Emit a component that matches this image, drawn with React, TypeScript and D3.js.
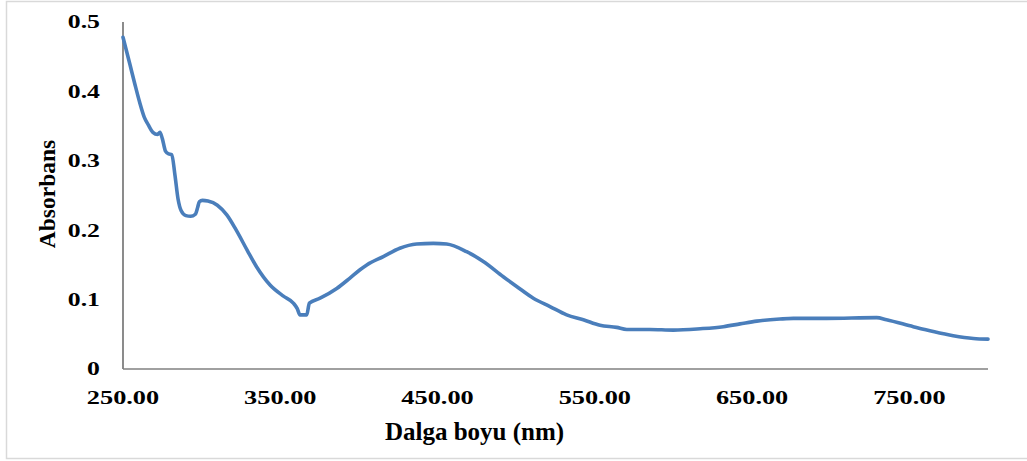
import React from "react";
import * as d3 from "d3";

// Absorption spectrum: wavelength (nm) and absorbance readings
const wavelengths = [
  250, 254.5, 257.6, 260.5, 263.5, 266, 269, 272, 273.5, 275, 277, 279, 281, 283, 285, 287,
  290, 293, 296, 297.5, 298.5, 300.5, 304, 310, 316, 322, 329, 335, 343.5, 352, 358.3,
  360.8, 362.5, 366.8, 368.5, 375.3, 385.9, 394.3, 400.7, 405, 415.5, 426, 436.7, 447.3,
  455.8, 468.5, 479.1, 491.8, 500.3, 510.9, 521.5, 532.1, 542.7, 553.3, 563.9, 570.3,
  585, 600, 617, 631.7, 642.3, 653, 667.7, 676.2, 697.4, 729.2, 735.5, 752.5, 765.2,
  777.9, 790.7, 800,
];
const absorbance = [
  0.478, 0.438, 0.41, 0.385, 0.363, 0.352, 0.341, 0.338, 0.341, 0.332, 0.314, 0.31, 0.309,
  0.28, 0.245, 0.228, 0.221, 0.22, 0.223, 0.233, 0.241, 0.243, 0.242, 0.236, 0.222, 0.2,
  0.171, 0.147, 0.121, 0.105, 0.095, 0.087, 0.078, 0.078, 0.095, 0.102, 0.116, 0.131,
  0.143, 0.15, 0.162, 0.174, 0.18, 0.181, 0.18, 0.169, 0.155, 0.133, 0.119, 0.102, 0.09,
  0.078, 0.071, 0.063, 0.06, 0.057, 0.057, 0.056, 0.058, 0.061, 0.065, 0.069, 0.072,
  0.073, 0.073, 0.074, 0.071, 0.061, 0.054, 0.048, 0.044, 0.043,
];

const yTicks = [0, 0.1, 0.2, 0.3, 0.4, 0.5];
const yTickLabels = ["0", "0.1", "0.2", "0.3", "0.4", "0.5"];
const xTicks = [250, 350, 450, 550, 650, 750];
const xTickLabels = ["250.00", "350.00", "450.00", "550.00", "650.00", "750.00"];

const xTitle = "Dalga boyu (nm)";
const yTitle = "Absorbans";

const W = 1027;
const H = 461;
const plot = { left: 123, right: 988, top: 22, bottom: 369 };
const font = "'Liberation Serif', 'Times New Roman', serif";

export default function App() {
  const x = d3.scaleLinear().domain([250, 800]).range([plot.left, plot.right]);
  const y = d3.scaleLinear().domain([0, 0.5]).range([plot.bottom, plot.top]);

  const points = wavelengths.map((w, i) => [w, absorbance[i]] as [number, number]);
  const path = d3
    .line<[number, number]>()
    .x((d) => x(d[0]))
    .y((d) => y(d[1]))
    .curve(d3.curveMonotoneX)(points);

  return (
    <svg
      width={W}
      height={H}
      style={{ position: "absolute", left: 0, top: 0, background: "#fff" }}
    >
      <rect x={0} y={0} width={W} height={H} fill="#fff" />
      {/* chart frame */}
      <rect x={6.5} y={1.5} width={W + 10} height={457} fill="none" stroke="#d9d9d9" strokeWidth={1.5} />

      {/* axes */}
      <line x1={plot.left} x2={plot.left} y1={plot.top} y2={plot.bottom} stroke="#3f3f3f" strokeWidth={1.2} />
      <line x1={plot.left} x2={plot.right} y1={plot.bottom} y2={plot.bottom} stroke="#808080" strokeWidth={1.5} />

      {/* y tick labels */}
      {yTicks.map((t, i) => (
        <text
          key={"y" + t}
          transform={`translate(100, ${y(t)}) scale(1.32, 1)`}
          textAnchor="end"
          dominantBaseline="central"
          fontFamily={font}
          fontWeight="bold"
          fontSize={19.5}
          fill="#000"
        >
          {yTickLabels[i]}
        </text>
      ))}

      {/* x tick labels */}
      {xTicks.map((t, i) => (
        <text
          key={"x" + t}
          transform={`translate(${x(t)}, 404) scale(1.35, 1)`}
          textAnchor="middle"
          fontFamily={font}
          fontWeight="bold"
          fontSize={19.5}
          fill="#000"
        >
          {xTickLabels[i]}
        </text>
      ))}

      {/* axis titles */}
      <text
        x={474.5}
        y={440}
        textAnchor="middle"
        fontFamily={font}
        fontWeight="bold"
        fontSize={25}
        fill="#000"
      >
        {xTitle}
      </text>
      <text
        transform="translate(55, 194) rotate(-90)"
        textAnchor="middle"
        fontFamily={font}
        fontWeight="bold"
        fontSize={23.5}
        fill="#000"
      >
        {yTitle}
      </text>

      {/* spectrum */}
      <path d={path ?? ""} fill="none" stroke="#4a7ebb" strokeWidth={3.6} strokeLinejoin="round" strokeLinecap="round" />
    </svg>
  );
}
